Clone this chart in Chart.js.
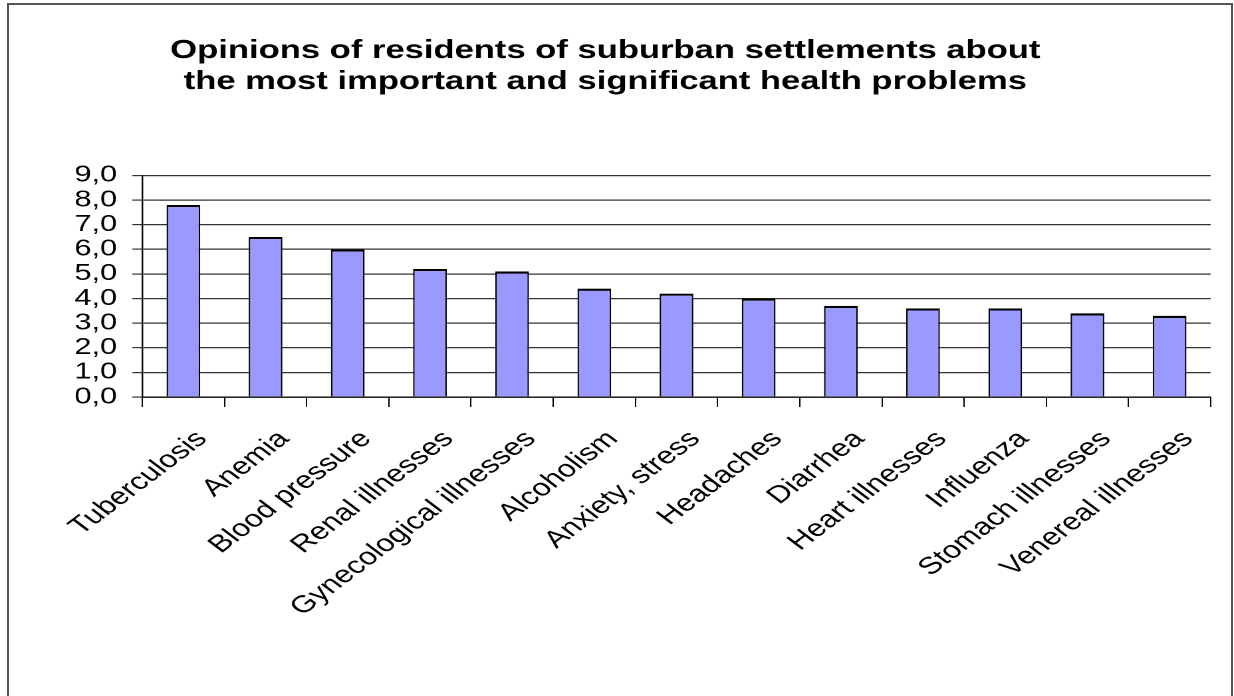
<!DOCTYPE html>
<html>
<head>
<meta charset="utf-8">
<script src="https://cdn.jsdelivr.net/npm/chart.js@4/dist/chart.umd.min.js"></script>
<style>
  html, body { margin: 0; padding: 0; background: #fff; overflow: hidden; }
  #frame {
    position: absolute; left: 7px; top: 3px; width: 1226px; height: 760px;
    box-sizing: border-box; border: 2px solid #555;
  }
  /* the chart is laid out narrow and widened to the full page */
  #wrap {
    position: absolute; left: 0; top: 0; width: 928px; height: 696px;
    transform: scaleX(1.3297); transform-origin: 0 0;
  }
</style>
</head>
<body>
<div id="frame"></div>
<div id="wrap"><canvas id="healthChart"></canvas></div>
<script>
const healthChart = document.getElementById("healthChart");

// Problems named by residents, and the score each one got
const problems = [
  "Tuberculosis",
  "Anemia",
  "Blood pressure",
  "Renal illnesses",
  "Gynecological illnesses",
  "Alcoholism",
  "Anxiety, stress",
  "Headaches",
  "Diarrhea",
  "Heart illnesses",
  "Influenza",
  "Stomach illnesses",
  "Venereal illnesses",
];
const scores = [7.8, 6.5, 6.0, 5.2, 5.1, 4.4, 4.2, 4.0, 3.7, 3.6, 3.6, 3.4, 3.3];

const titleLines = [
  "Opinions of residents of suburban settlements about",
  "the most important and significant health problems",
];

const arial = "'Liberation Sans', Arial, sans-serif";

const dataHealth = {
  labels: problems,
  datasets: [
    {
      label: "Score",
      data: scores,
      backgroundColor: "#9999ff",
      borderColor: "#000",
      borderWidth: { top: 2.2, left: 1.2, right: 1.2, bottom: 0 },
      barPercentage: 0.41,
      categoryPercentage: 1,
    },
  ],
};

const configHealth = {
  type: "bar",
  data: dataHealth,
  options: {
    responsive: true,
    maintainAspectRatio: false,
    animation: false,
    devicePixelRatio: 2,
    layout: { padding: { top: 0, right: 17.5, left: 0, bottom: 0 } },
    plugins: {
      legend: { display: false },
      tooltip: { enabled: false },
      title: {
        display: true,
        text: titleLines,
        color: "#000",
        font: { family: arial, size: 26, weight: "bold", lineHeight: 1.2 },
        padding: { top: 35, bottom: 78 },
      },
    },
    scales: {
      x: {
        grid: {
          offset: true,
          drawOnChartArea: false,
          drawTicks: true,
          tickLength: 10,
          color: "#000",
        },
        border: { color: "#000", width: 1.2 },
        ticks: {
          autoSkip: false,
          minRotation: 45,
          maxRotation: 45,
          labelOffset: 14,
          padding: 18,
          color: "#000",
          font: { family: arial, size: 24 },
        },
        afterFit(scale) {
          scale.height = 299;
          scale.paddingLeft = 0;
          scale.paddingRight = 0;
        },
      },
      y: {
        min: 0,
        max: 9,
        grid: { color: "#333", lineWidth: 1.2, tickLength: 7.5 },
        border: { color: "#000", width: 1.2 },
        ticks: {
          stepSize: 1,
          autoSkip: false,
          padding: 11.5,
          color: "#000",
          font: { family: arial, size: 23 },
          callback: (v) => v.toFixed(1).replace(".", ","),
        },
        afterFit(scale) {
          scale.width = 107;
          scale.paddingTop = 0;
          scale.paddingBottom = 0;
        },
      },
    },
  },
};

new Chart(healthChart, configHealth);
</script>
</body>
</html>
